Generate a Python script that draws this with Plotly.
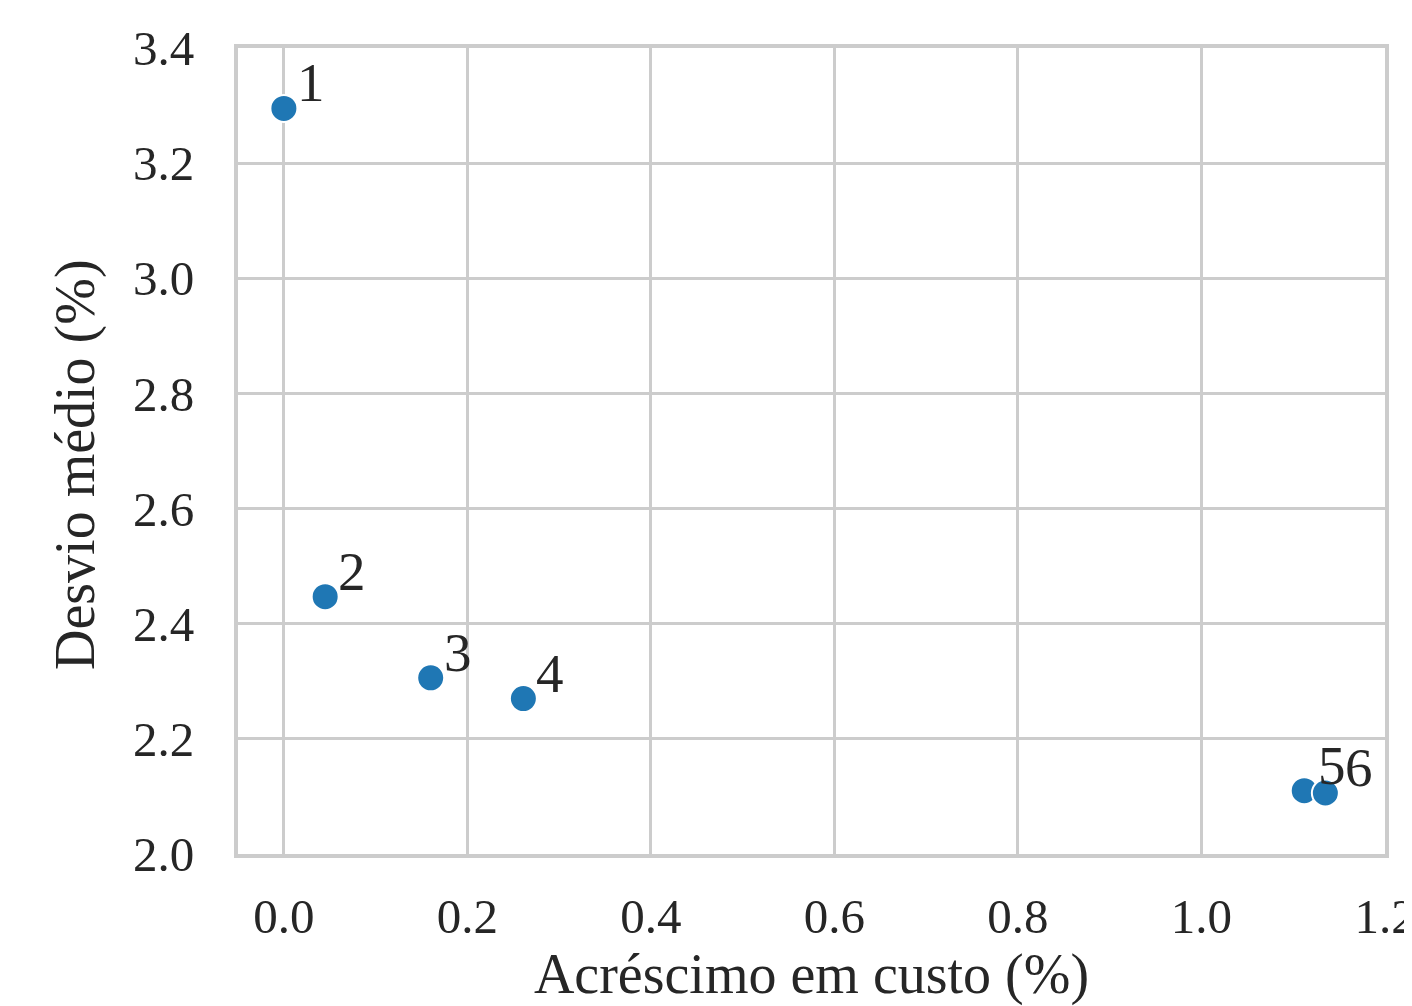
import plotly.graph_objects as go

labels = ["1", "2", "3", "4", "5", "6"]
cost_increase = [0.0, 0.045, 0.160, 0.261, 1.112, 1.135]
mean_deviation = [3.295, 2.447, 2.306, 2.270, 2.110, 2.106]

x_ticks = [0.0, 0.2, 0.4, 0.6, 0.8, 1.0, 1.2]
y_ticks = [2.0, 2.2, 2.4, 2.6, 2.8, 3.0, 3.2, 3.4]

FONT = "Liberation Serif"
TXT = "#262626"
GRID = "#cccccc"

fig = go.Figure()
fig.add_trace(go.Scatter(
    x=cost_increase, y=mean_deviation, mode="markers",
    marker=dict(size=27, color="#1f77b4", line=dict(color="white", width=2)),
    showlegend=False, cliponaxis=False,
))

# small per-label horizontal nudges so the touching "5" and "6" stay legible
label_xshift = {"5": 12, "6": 18}
for lab, xv, yv in zip(labels, cost_increase, mean_deviation):
    fig.add_annotation(x=xv, y=yv, text=lab, showarrow=False,
                       xanchor="left", yanchor="bottom",
                       xshift=label_xshift.get(lab, 11), yshift=-7,
                       font=dict(family=FONT, size=55, color=TXT))

# y-axis title as a rotated annotation for precise placement
fig.add_annotation(x=0, y=0.5, xref="paper", yref="paper", text="Desvio médio (%)",
                   textangle=-90, showarrow=False, xanchor="center", yanchor="middle",
                   xshift=-163, yshift=-14,
                   font=dict(family=FONT, size=56, color=TXT))

# page body has an 8px margin, so the figure is sized/margined accordingly
fig.update_layout(
    width=1404, height=998,
    margin=dict(l=230, r=27, t=40, b=152),
    plot_bgcolor="white", paper_bgcolor="white",
    font=dict(family=FONT, size=49, color=TXT),
)
fig.update_xaxes(
    range=[-0.05, 1.2], tickvals=x_ticks, ticktext=[f"{v:.1f}" for v in x_ticks],
    showgrid=True, gridcolor=GRID, gridwidth=3,
    showline=True, linecolor=GRID, linewidth=4, mirror=True,
    zeroline=False, ticks="", ticklabelstandoff=16, ticklabeloverflow="allow",
    title=dict(text="Acréscimo em custo (%)", font=dict(family=FONT, size=56, color=TXT), standoff=24),
    automargin=False,
)
fig.update_yaxes(
    range=[2.0, 3.4], tickvals=y_ticks, ticktext=[f"{v:.1f}" for v in y_ticks],
    showgrid=True, gridcolor=GRID, gridwidth=3,
    showline=True, linecolor=GRID, linewidth=4, mirror=True,
    zeroline=False, ticks="", ticklabelstandoff=30, ticklabeloverflow="allow",
    automargin=False,
)

fig.write_html("out.html")
